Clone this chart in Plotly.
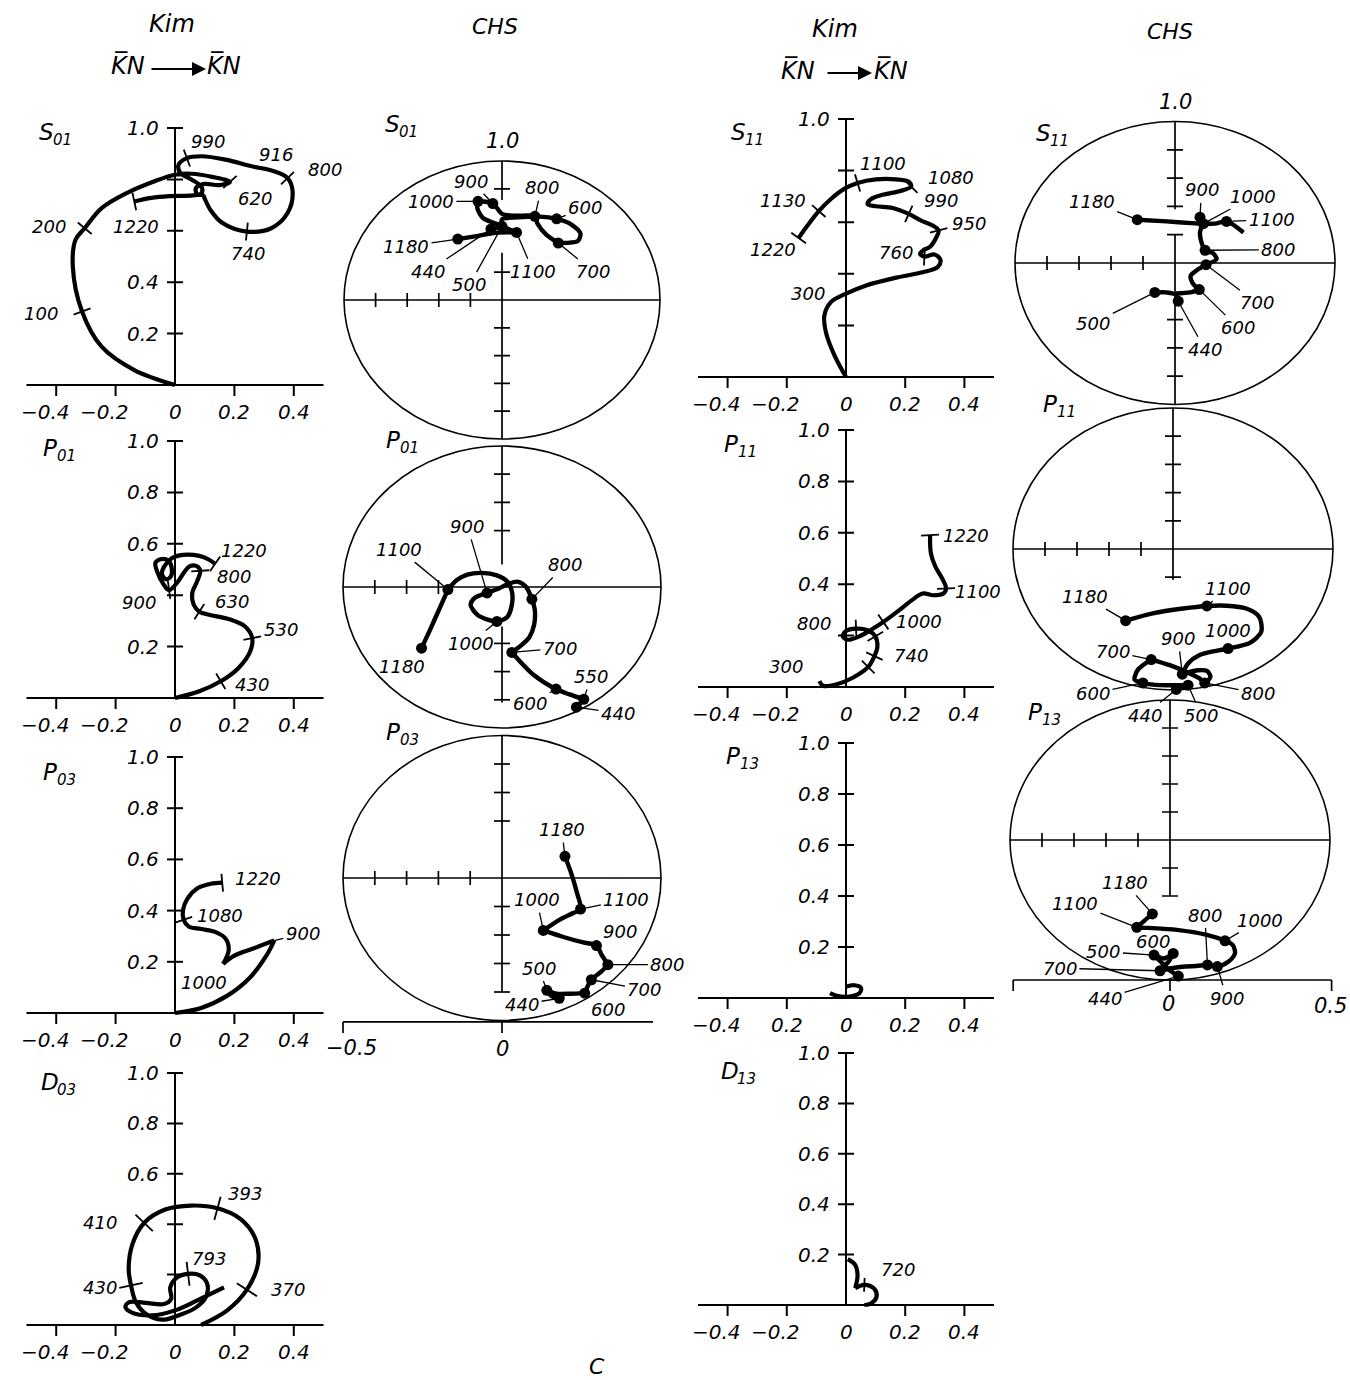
import math
import plotly.graph_objects as go

W, H = 1350, 1380
FONT = "DejaVu Sans"
INK = "black"

# ------------------------------------------------------------------
# Kim, K̄N -> K̄N : partial-wave amplitudes, Re T (x) and Im T (y)
# ------------------------------------------------------------------
KIM_S01_RE = [0.000, -0.137, -0.247, -0.313, -0.344, -0.335, -0.304, -0.247, -0.159, -0.071,
              0.000, 0.055, 0.125, 0.185, 0.150, 0.095, 0.070, 0.075, 0.095, 0.100,
              0.120, 0.160, 0.242, 0.324, 0.379, 0.396, 0.379, 0.330, 0.258, 0.170,
              0.090, 0.040, 0.012, 0.018, 0.055, 0.090, 0.088, 0.060, -0.020, -0.080, -0.137]
KIM_S01_IM = [0.000, 0.058, 0.149, 0.286, 0.461, 0.565, 0.610, 0.688, 0.749, 0.792,
              0.818, 0.822, 0.810, 0.790, 0.778, 0.782, 0.765, 0.742, 0.738, 0.725,
              0.680, 0.630, 0.597, 0.610, 0.669, 0.753, 0.805, 0.833, 0.851, 0.877,
              0.890, 0.883, 0.857, 0.825, 0.800, 0.770, 0.745, 0.738, 0.735, 0.728, 0.714]
KIM_S01_EN = ["100", "200", "620", "740", "800", "916", "990", "1220"]
KIM_S01_AT = [3, 6, 13, 22, 26, 28, 31, 40]
KIM_S01_TICK_AT = [3, 6, 13, 22, 26, 31, 40]

KIM_P01_RE = [0.000, 0.082, 0.154, 0.214, 0.253, 0.260, 0.236, 0.181, 0.115, 0.082,
              0.063, 0.058, 0.074, 0.085, 0.071, 0.049, 0.030, 0.011, -0.020, -0.041,
              -0.060, -0.066, -0.049, -0.022, -0.011, -0.014, -0.030, -0.044, -0.036, -0.011,
              0.027, 0.082, 0.115, 0.135]
KIM_P01_IM = [0.000, 0.026, 0.065, 0.117, 0.181, 0.233, 0.278, 0.307, 0.324, 0.336,
              0.363, 0.408, 0.453, 0.495, 0.514, 0.512, 0.488, 0.455, 0.420, 0.447,
              0.492, 0.525, 0.540, 0.534, 0.505, 0.473, 0.462, 0.483, 0.512, 0.544,
              0.557, 0.553, 0.538, 0.522]
KIM_P01_EN = ["430", "530", "630", "800", "900", "1220"]
KIM_P01_AT = [2, 5, 9, 13, 18, 33]
KIM_P01_TICK_AT = [2, 5, 9, 13, 18, 33]

KIM_P03_RE = [0.000, 0.088, 0.175, 0.252, 0.307, 0.334, 0.263, 0.197, 0.162, 0.181,
              0.170, 0.137, 0.088, 0.046, 0.029, 0.027, 0.042, 0.077, 0.121, 0.159]
KIM_P03_IM = [0.000, 0.020, 0.067, 0.138, 0.223, 0.283, 0.252, 0.222, 0.192, 0.247,
              0.291, 0.316, 0.328, 0.338, 0.364, 0.403, 0.447, 0.488, 0.505, 0.509]
KIM_P03_EN = ["900", "1000", "1080", "1220"]
KIM_P03_AT = [5, 8, 14, 19]
KIM_P03_TICK_AT = [14, 19]

KIM_D03_RE = [0.088, 0.176, 0.242, 0.280, 0.269, 0.220, 0.143, 0.055, -0.033, -0.104,
              -0.143, -0.156, -0.148, -0.132, -0.099, -0.044, 0.011, 0.066, 0.104, 0.108,
              0.082, 0.044, 0.005, -0.016, -0.013, -0.038, -0.099, -0.154, -0.167, -0.143,
              -0.077, 0.000, 0.077, 0.165]
KIM_D03_IM = [0.000, 0.058, 0.140, 0.248, 0.347, 0.421, 0.463, 0.474, 0.458, 0.405,
              0.322, 0.223, 0.157, 0.091, 0.045, 0.021, 0.038, 0.066, 0.111, 0.165,
              0.198, 0.203, 0.187, 0.149, 0.104, 0.083, 0.088, 0.091, 0.071, 0.048,
              0.038, 0.058, 0.099, 0.149]
KIM_D03_EN = ["370", "393", "410", "430", "793"]
KIM_D03_AT = [2, 6, 9, 12, 21]
KIM_D03_TICK_AT = [2, 6, 9, 12, 21]

KIM_S11_RE = [0.000, -0.039, -0.068, -0.073, -0.051, 0.000, 0.068, 0.169, 0.259, 0.310,
              0.319, 0.299, 0.265, 0.250, 0.262, 0.284, 0.304, 0.313, 0.293, 0.254,
              0.212, 0.158, 0.101, 0.073, 0.085, 0.124, 0.180, 0.220, 0.212, 0.169,
              0.101, 0.039, -0.006, -0.051, -0.092, -0.130, -0.160]
KIM_S11_IM = [0.000, 0.084, 0.174, 0.239, 0.290, 0.323, 0.355, 0.385, 0.406, 0.426,
              0.454, 0.475, 0.467, 0.478, 0.492, 0.505, 0.539, 0.568, 0.587, 0.606,
              0.632, 0.655, 0.662, 0.670, 0.690, 0.706, 0.720, 0.738, 0.757, 0.766,
              0.766, 0.752, 0.729, 0.690, 0.643, 0.587, 0.539]
KIM_S11_EN = ["300", "760", "950", "990", "1080", "1100", "1130", "1220"]
KIM_S11_AT = [5, 12, 17, 20, 27, 31, 34, 36]
KIM_S11_TICK_AT = [12, 17, 20, 27, 31, 34, 36]

KIM_P11_RE = [-0.090, -0.077, -0.034, 0.023, 0.075, 0.096, 0.106, 0.099, 0.073, 0.034,
              0.000, -0.011, 0.006, 0.045, 0.085, 0.126, 0.180, 0.225, 0.259, 0.295,
              0.329, 0.338, 0.327, 0.302, 0.287, 0.284]
KIM_P11_IM = [0.023, 0.005, 0.010, 0.036, 0.078, 0.120, 0.156, 0.197, 0.221, 0.227,
              0.218, 0.197, 0.184, 0.197, 0.223, 0.253, 0.299, 0.340, 0.364, 0.357,
              0.364, 0.383, 0.418, 0.468, 0.519, 0.591]
KIM_P11_EN = ["300", "740", "800", "1000", "1100", "1220"]
KIM_P11_AT = [0, 5, 9, 15, 21, 25]
KIM_P11_TICK_AT = [4, 5, 7, 9, 15, 21, 25]

KIM_P13_RE = [-0.054, -0.028, 0.011, 0.045, 0.051, 0.028, 0.000]
KIM_P13_IM = [0.019, 0.008, 0.006, 0.019, 0.039, 0.050, 0.044]

KIM_D13_RE = [0.006, 0.031, 0.039, 0.031, 0.062, 0.096, 0.103, 0.084, 0.062]
KIM_D13_IM = [0.182, 0.159, 0.115, 0.067, 0.080, 0.064, 0.032, 0.006, 0.000]
KIM_D13_EN = ["720"]
KIM_D13_AT = [4]
KIM_D13_TICK_AT = [4]

# ------------------------------------------------------------------
# CHS: amplitudes inside the unitary circle (Re T, Im T)
# ------------------------------------------------------------------
CHS_S01_RE = [-0.035, 0.000, 0.000, 0.050, 0.120, 0.173, 0.215, 0.248, 0.240, 0.178,
              0.140, 0.112, 0.104, 0.040, 0.000, -0.029, -0.076, -0.078, -0.060, -0.020,
              0.046, -0.020, -0.080, -0.140]
CHS_S01_IM = [0.755, 0.765, 0.790, 0.797, 0.800, 0.792, 0.775, 0.740, 0.712, 0.705,
              0.735, 0.775, 0.801, 0.803, 0.810, 0.847, 0.855, 0.830, 0.795, 0.775,
              0.743, 0.742, 0.730, 0.719]
CHS_S01_EN = ["440", "500", "600", "700", "800", "900", "1000", "1100", "1180"]
CHS_S01_AT = [0, 1, 5, 9, 12, 15, 16, 20, 23]

CHS_P01_RE = [0.234, 0.257, 0.210, 0.170, 0.099, 0.031, 0.059, 0.086, 0.101, 0.103,
              0.094, 0.076, 0.049, 0.021, -0.010, -0.047, -0.086, -0.099, -0.078, -0.045,
              -0.016, 0.016, 0.031, 0.031, 0.016, -0.016, -0.063, -0.109, -0.143, -0.170,
              -0.198, -0.226, -0.253]
CHS_P01_IM = [0.074, 0.102, 0.120, 0.138, 0.189, 0.268, 0.292, 0.322, 0.366, 0.420,
              0.457, 0.500, 0.519, 0.512, 0.495, 0.479, 0.461, 0.437, 0.402, 0.384,
              0.378, 0.393, 0.437, 0.485, 0.520, 0.541, 0.550, 0.544, 0.524, 0.491,
              0.420, 0.349, 0.283]
CHS_P01_EN = ["440", "550", "600", "700", "800", "900", "1000", "1100", "1180"]
CHS_P01_AT = [0, 1, 3, 5, 10, 15, 20, 29, 32]

CHS_P03_RE = [0.180, 0.156, 0.141, 0.172, 0.214, 0.260, 0.281, 0.313, 0.333, 0.313,
              0.297, 0.255, 0.193, 0.130, 0.182, 0.224, 0.247, 0.236, 0.219, 0.198]
CHS_P03_IM = [0.078, 0.085, 0.106, 0.094, 0.094, 0.096, 0.143, 0.172, 0.196, 0.231,
              0.263, 0.274, 0.293, 0.316, 0.354, 0.377, 0.391, 0.447, 0.512, 0.576]
CHS_P03_EN = ["440", "500", "600", "700", "800", "900", "1000", "1100", "1180"]
CHS_P03_AT = [0, 2, 5, 6, 8, 10, 13, 16, 19]

CHS_S11_RE = [0.010, 0.003, -0.026, -0.063, None, 0.003, 0.047, 0.076, 0.055, 0.049,
              0.070, 0.097, 0.130, 0.118, 0.094, 0.082, 0.078, 0.084, 0.078, None,
              -0.118, -0.026, 0.052, 0.089, 0.125, 0.161, 0.214]
CHS_S11_IM = [0.365, 0.388, 0.396, 0.396, None, 0.392, 0.396, 0.406, 0.429, 0.455,
              0.476, 0.494, 0.514, 0.535, 0.545, 0.576, 0.608, 0.635, 0.662, None,
              0.653, 0.647, 0.641, 0.639, 0.639, 0.647, 0.608]
CHS_S11_EN = ["440", "500", "600", "700", "800", "900", "1000", "1100", "1180"]
CHS_S11_AT = [0, 3, 7, 11, 14, 18, 23, 25, 20]

CHS_P11_RE = [0.010, 0.047, -0.021, -0.078, -0.094, -0.120, -0.109, -0.068, -0.010, 0.042,
              0.083, 0.099, 0.117, 0.106, 0.078, 0.052, 0.029, 0.047, 0.083, 0.135,
              0.172, 0.240, 0.276, 0.269, 0.229, 0.167, 0.106, 0.031, -0.063, -0.148]
CHS_P11_IM = [0.002, 0.017, 0.017, 0.021, 0.025, 0.037, 0.073, 0.108, 0.088, 0.064,
              0.041, 0.025, 0.047, 0.068, 0.070, 0.064, 0.056, 0.094, 0.124, 0.139,
              0.147, 0.167, 0.207, 0.260, 0.289, 0.299, 0.298, 0.289, 0.272, 0.246]
CHS_P11_EN = ["440", "500", "600", "700", "800", "900", "1000", "1100", "1180"]
CHS_P11_AT = [0, 1, 4, 7, 11, 16, 20, 26, 29]

CHS_P13_RE = [0.026, -0.005, -0.029, -0.050, -0.019, 0.010, -0.005, -0.026, -0.031, 0.005,
              0.047, 0.083, 0.117, 0.148, 0.182, 0.203, 0.196, 0.172, 0.115, 0.021,
              -0.068, -0.104, -0.078, -0.055]
CHS_P13_IM = [0.014, 0.038, 0.065, 0.089, 0.077, 0.095, 0.065, 0.042, 0.033, 0.042,
              0.048, 0.050, 0.054, 0.048, 0.065, 0.095, 0.125, 0.140, 0.161, 0.179,
              0.186, 0.188, 0.214, 0.236]
CHS_P13_EN = ["440", "500", "600", "700", "800", "900", "1000", "1100", "1180"]
CHS_P13_AT = [0, 3, 5, 8, 12, 13, 17, 21, 23]

X_TICKS = [-0.4, -0.2, 0.0, 0.2, 0.4]
XLAB = ["−0.4", "−0.2", "0", "0.2", "0.4"]

# ------------------------------------------------------------------
# Panel geometry (pixel origin, pixels per unit, label placement)
# ------------------------------------------------------------------
KIM_PANELS = [
    dict(name=("S", "01"), name_px=(46, 132), ox=175, oy=385, sx=297, sy=257, cols=(2, 345),
         re=KIM_S01_RE, im=KIM_S01_IM, en=KIM_S01_EN, at=KIM_S01_AT, ticks=KIM_S01_TICK_AT,
         breaks=[], tick_len=18,
         lab_xy=[(-0.451, 0.279), (-0.423, 0.617), (0.269, 0.727), (0.247, 0.513), (0.505, 0.838),
                 (0.341, 0.896), (0.110, 0.948), (-0.132, 0.617)],
         ylab=[(1.0, "1.0"), (0.4, "0.4"), (0.2, "0.2")], xlab=XLAB),
    dict(name=("P", "01"), name_px=(50, 448), ox=175, oy=698, sx=297, sy=257, cols=(2, 345),
         re=KIM_P01_RE, im=KIM_P01_IM, en=KIM_P01_EN, at=KIM_P01_AT, ticks=KIM_P01_TICK_AT,
         breaks=[], tick_len=18,
         lab_xy=[(0.258, 0.052), (0.357, 0.266), (0.192, 0.376), (0.198, 0.473), (-0.121, 0.372),
                 (0.231, 0.574)],
         ylab=[(1.0, "1.0"), (0.8, "0.8"), (0.6, "0.6"), (0.2, "0.2")], xlab=XLAB),
    dict(name=("P", "03"), name_px=(50, 772), ox=175, oy=1013, sx=297, sy=256, cols=(2, 345),
         re=KIM_P03_RE, im=KIM_P03_IM, en=KIM_P03_EN, at=KIM_P03_AT, ticks=KIM_P03_TICK_AT,
         breaks=[5, 8], tick_len=18, leaders=["900"],
         lab_xy=[(0.43, 0.31), (0.099, 0.119), (0.153, 0.38), (0.28, 0.525)],
         ylab=[(1.0, "1.0"), (0.8, "0.8"), (0.6, "0.6"), (0.4, "0.4"), (0.2, "0.2")], xlab=XLAB),
    dict(name=("D", "03"), name_px=(50, 1082), ox=175, oy=1325, sx=297, sy=252, cols=(2, 345),
         re=KIM_D03_RE, im=KIM_D03_IM, en=KIM_D03_EN, at=KIM_D03_AT, ticks=KIM_D03_TICK_AT,
         breaks=[], tick_len=24,
         lab_xy=[(0.379, 0.140), (0.236, 0.521), (-0.253, 0.405), (-0.253, 0.149), (0.115, 0.264)],
         ylab=[(1.0, "1.0"), (0.8, "0.8"), (0.6, "0.6")], xlab=XLAB),
    dict(name=("S", "11"), name_px=(738, 132), ox=846, oy=377, sx=296, sy=258, cols=(672, 1002),
         re=KIM_S11_RE, im=KIM_S11_IM, en=KIM_S11_EN, at=KIM_S11_AT, ticks=KIM_S11_TICK_AT,
         breaks=[], tick_len=18,
         lab_xy=[(-0.130, 0.325), (0.169, 0.484), (0.417, 0.594), (0.321, 0.684), (0.355, 0.774),
                 (0.124, 0.826), (-0.214, 0.684), (-0.248, 0.493)],
         ylab=[(1.0, "1.0")], xlab=XLAB),
    dict(name=("P", "11"), name_px=(731, 444), ox=846, oy=687, sx=296, sy=257, cols=(672, 1002),
         re=KIM_P11_RE, im=KIM_P11_IM, en=KIM_P11_EN, at=KIM_P11_AT, ticks=KIM_P11_TICK_AT,
         breaks=[], tick_len=18,
         lab_xy=[(-0.203, 0.078), (0.220, 0.123), (-0.107, 0.249), (0.248, 0.253), (0.445, 0.370),
                 (0.406, 0.591)],
         ylab=[(1.0, "1.0"), (0.8, "0.8"), (0.6, "0.6"), (0.4, "0.4")], xlab=XLAB),
    dict(name=("P", "13"), name_px=(733, 756), ox=846, oy=998, sx=296, sy=255, cols=(672, 1002),
         re=KIM_P13_RE, im=KIM_P13_IM, en=[], at=[], ticks=[], breaks=[], tick_len=18, lab_xy=[],
         ylab=[(1.0, "1.0"), (0.8, "0.8"), (0.6, "0.6"), (0.4, "0.4"), (0.2, "0.2")],
         xlab=["−0.4", "0.2", "0", "0.2", "0.4"]),
    dict(name=("D", "13"), name_px=(730, 1071), ox=846, oy=1305, sx=296, sy=252, cols=(672, 1002),
         re=KIM_D13_RE, im=KIM_D13_IM, en=KIM_D13_EN, at=KIM_D13_AT, ticks=KIM_D13_TICK_AT,
         breaks=[3], tick_len=14, lab_xy=[(0.174, 0.139)],
         ylab=[(1.0, "1.0"), (0.8, "0.8"), (0.6, "0.6"), (0.4, "0.4"), (0.2, "0.2")], xlab=XLAB),
]

CHS_PANELS = [
    dict(name=("S", "01"), name_px=(392, 124), cx=502, cy=300, sx=316, sy=278, cols=(335, 670),
         re=CHS_S01_RE, im=CHS_S01_IM, en=CHS_S01_EN, at=CHS_S01_AT, breaks=[1, 9, 16, 20],
         vseg=[(0.0, 0.67), (0.86, 1.0)], vticks=[0.1, 0.2, 0.3, 0.4, 0.6, 0.9],
         hticks=[-0.4, -0.3, -0.2, -0.1], top_label=True,
         lab_xy=[(-0.235, 0.602), (-0.103, 0.554), (0.263, 0.831), (0.289, 0.602), (0.125, 0.904),
                 (-0.097, 0.928), (-0.225, 0.855), (0.099, 0.602), (-0.304, 0.693)]),
    dict(name=("P", "01"), name_px=(393, 440), cx=502, cy=587, sx=318, sy=282, cols=(335, 670),
         re=CHS_P01_RE, im=CHS_P01_IM, en=CHS_P01_EN, at=CHS_P01_AT, breaks=[1, 5, 29],
         vseg=[(0.09, 0.36), (0.58, 1.0)], vticks=[0.1, 0.2, 0.3, 0.7, 0.8, 0.9],
         hticks=[-0.4, -0.3, -0.2], no_leader=["1180"],
         lab_xy=[(0.365, 0.053), (0.281, 0.183), (0.089, 0.086), (0.182, 0.283), (0.198, 0.579),
                 (-0.109, 0.715), (-0.099, 0.301), (-0.323, 0.633), (-0.313, 0.218)]),
    dict(name=("P", "03"), name_px=(393, 732), cx=502, cy=878, sx=318, sy=285, cols=(335, 670),
         re=CHS_P03_RE, im=CHS_P03_IM, en=CHS_P03_EN, at=CHS_P03_AT, breaks=[2, 5, 8, 13],
         vseg=[(0.1, 1.0)], vticks=[0.1, 0.2, 0.3, 0.4, 0.7, 0.8, 0.9],
         hticks=[-0.4, -0.3, -0.2, -0.1],
         base=dict(y=-0.005, x0=-0.5, x1=0.475, ticks=[-0.5, 0.0],
                   labels=[(-0.472, -0.096, "−0.5"), (0.0, -0.10, "0")]),
         lab_xy=[(0.063, 0.056), (0.115, 0.184), (0.333, 0.038), (0.448, 0.108), (0.52, 0.196),
                 (0.370, 0.313), (0.109, 0.424), (0.391, 0.424), (0.188, 0.670)]),
    dict(name=("S", "11"), name_px=(1043, 133), cx=1175, cy=263, sx=320, sy=283, cols=(1003, 1349),
         re=CHS_S11_RE, im=CHS_S11_IM, en=CHS_S11_EN, at=CHS_S11_AT, breaks=[7, 11],
         vseg=[(0.0, 0.6), (0.69, 1.0)], vticks=[0.1, 0.2, 0.3, 0.6, 0.7, 0.8, 0.9],
         hticks=[-0.4, -0.3, -0.2, -0.1], top_label=True,
         lab_xy=[(0.094, 0.194), (-0.255, 0.288), (0.198, 0.271), (0.255, 0.359), (0.323, 0.547),
                 (0.083, 0.759), (0.245, 0.735), (0.302, 0.653), (-0.260, 0.718)]),
    dict(name=("P", "11"), name_px=(1050, 404), cx=1173, cy=549, sx=320, sy=282, cols=(1003, 1349),
         re=CHS_P11_RE, im=CHS_P11_IM, en=CHS_P11_EN, at=CHS_P11_AT, breaks=[1, 7, 16],
         vseg=[(0.39, 1.0)], vticks=[0.4, 0.6, 0.7, 0.8, 0.9],
         hticks=[-0.4, -0.3, -0.2, -0.1],
         lab_xy=[(-0.089, -0.089), (0.089, -0.089), (-0.250, -0.012), (-0.188, 0.136), (0.266, -0.012),
                 (0.016, 0.183), (0.172, 0.212), (0.172, 0.360), (-0.276, 0.331)]),
    dict(name=("P", "13"), name_px=(1035, 712), cx=1170, cy=840, sx=320, sy=280, cols=(1003, 1349),
         re=CHS_P13_RE, im=CHS_P13_IM, en=CHS_P13_EN, at=CHS_P13_AT, breaks=[3, 5, 8, 21],
         vseg=[(0.3, 1.0)], vticks=[0.3, 0.4, 0.6, 0.7, 0.8, 0.9],
         hticks=[-0.4, -0.3, -0.2, -0.1], no_leader=["600"],
         base=dict(y=0.0, x0=-0.49, x1=0.505, ticks=[-0.49, 0.0, 0.505],
                   labels=[(-0.005, -0.085, "0"), (0.5, -0.092, "0.5")]),
         lab_xy=[(-0.203, -0.065), (-0.208, 0.101), (-0.052, 0.137), (-0.344, 0.042), (0.109, 0.232),
                 (0.177, -0.065), (0.281, 0.214), (-0.297, 0.274), (-0.141, 0.348)]),
]

# ------------------------------------------------------------------
fig = go.Figure()
annotations, shapes, axes_layout = [], [], {}
_count = [0]


def new_axes(ox, oy, sx, sy, left, top, right, bottom):
    _count[0] += 1
    i = _count[0]
    s = "" if i == 1 else str(i)
    xa, ya = "x" + s, "y" + s
    axes_layout["xaxis" + s] = dict(domain=[left / W, right / W],
                                    range=[(left - ox) / sx, (right - ox) / sx],
                                    visible=False, fixedrange=True, anchor=ya)
    axes_layout["yaxis" + s] = dict(domain=[1 - bottom / H, 1 - top / H],
                                    range=[(oy - bottom) / sy, (oy - top) / sy],
                                    visible=False, fixedrange=True, anchor=xa)
    return xa, ya


def add_segments(xa, ya, segs, width):
    xs, ys = [], []
    for (x1, y1), (x2, y2) in segs:
        xs += [x1, x2, None]
        ys += [y1, y2, None]
    fig.add_trace(go.Scatter(x=xs, y=ys, mode="lines", line=dict(color=INK, width=width),
                             xaxis=xa, yaxis=ya, hoverinfo="skip", showlegend=False))


def add_curve(xa, ya, re, im, breaks, width, smoothing=1.0):
    xs, ys = [], []
    for k, (a, b) in enumerate(zip(re, im)):
        xs.append(a)
        ys.append(b)
        if k in breaks:
            xs += [None, a]
            ys += [None, b]
    fig.add_trace(go.Scatter(x=xs, y=ys, mode="lines",
                             line=dict(color=INK, width=width, shape="spline", smoothing=smoothing),
                             connectgaps=False, xaxis=xa, yaxis=ya, hoverinfo="skip", showlegend=False))


def tick_across(re, im, k, sx, sy, length):
    n = len(re)
    i0 = k - 1 if k - 1 >= 0 else k
    i1 = k + 1 if k + 1 < n else k
    dx = (re[i1] - re[i0]) * sx
    dy = (im[i1] - im[i0]) * sy
    norm = math.hypot(dx, dy) or 1.0
    nx, ny = -dy / norm, dx / norm
    h = length / 2.0
    return ((re[k] - nx * h / sx, im[k] - ny * h / sy), (re[k] + nx * h / sx, im[k] + ny * h / sy))


def text(xref, yref, x, y, s, size, xanchor="center", yanchor="middle", **kw):
    annotations.append(dict(xref=xref, yref=yref, x=x, y=y, text="<i>" + s + "</i>", showarrow=False,
                            xanchor=xanchor, yanchor=yanchor,
                            font=dict(family=FONT, size=size, color=INK), **kw))


def paper_text(px, py, s, size, **kw):
    text("paper", "paper", px / W, 1 - py / H, s, size, **kw)


def panel_name(px, py, letter, sub):
    paper_text(px, py, letter, 23)
    paper_text(px + 5, py + 8, sub, 15, xanchor="left")


def leader_text(xa, ya, x, y, tx, ty, s, size):
    annotations.append(dict(xref=xa, yref=ya, x=x, y=y, axref=xa, ayref=ya, ax=tx, ay=ty,
                            text="<i>" + s + "</i>", showarrow=True, arrowhead=0, arrowwidth=1.3,
                            arrowcolor=INK, standoff=0, startstandoff=1,
                            xanchor="center", yanchor="middle",
                            font=dict(family=FONT, size=size, color=INK)))


def draw_kim(p):
    ox, oy, sx, sy = p["ox"], p["oy"], p["sx"], p["sy"]
    left, right = p["cols"]
    xa, ya = new_axes(ox, oy, sx, sy, left, oy - 1.13 * sy, right, oy + 0.13 * sy)
    tx = 8.0 / sx
    segs = [((-0.5, 0.0), (0.5, 0.0)), ((0.0, 0.0), (0.0, 1.0)), ((-tx, 1.0), (tx, 1.0))]
    for v in (-0.4, -0.2, 0.2, 0.4):
        segs.append(((v, 0.0), (v, -11.0 / sy)))
    for v in (0.2, 0.4, 0.6, 0.8):
        segs.append(((-tx, v), (tx, v)))
    add_segments(xa, ya, segs, 2)
    for v, s in p["ylab"]:
        text(xa, ya, -14.0 / sx, v, s, 20, xanchor="right")
    for v, s in zip(X_TICKS, p["xlab"]):
        text(xa, ya, v, -27.0 / sy, s, 20, xshift=-11 if s.startswith("−") else 0)

    re, im = p["re"], p["im"]
    add_curve(xa, ya, re, im, p["breaks"], 4.2)
    segs = [tick_across(re, im, k, sx, sy, p["tick_len"]) for k in p["ticks"]]
    if segs:
        add_segments(xa, ya, segs, 1.8)
    leaders = p.get("leaders", [])
    for s, k, (lx, ly) in zip(p["en"], p["at"], p["lab_xy"]):
        if s in leaders:
            leader_text(xa, ya, re[k], im[k], lx, ly, s, 18)
        else:
            text(xa, ya, lx, ly, s, 18)
    panel_name(*p["name_px"], *p["name"])


def draw_chs(p):
    cx, cy, sx, sy = p["cx"], p["cy"], p["sx"], p["sy"]
    ox, oy = cx, cy + 0.5 * sy
    left, right = p["cols"]
    xa, ya = new_axes(ox, oy, sx, sy, left, cy - 0.6 * sy, right, cy + 0.63 * sy)
    shapes.append(dict(type="circle", xref=xa, yref=ya, x0=-0.5, x1=0.5, y0=0.0, y1=1.0,
                       line=dict(color=INK, width=1.6)))
    th, tv = 8.0 / sx, 7.0 / sy
    segs = [((-0.5, 0.5), (0.5, 0.5))]
    for lo, hi in p["vseg"]:
        segs.append(((0.0, lo), (0.0, hi)))
    for v in p["vticks"]:
        segs.append(((-th, v), (th, v)))
    for v in p["hticks"]:
        segs.append(((v, 0.5 - tv), (v, 0.5 + tv)))
    base = p.get("base")
    if base:
        segs.append(((base["x0"], base["y"]), (base["x1"], base["y"])))
        for v in base["ticks"]:
            segs.append(((v, base["y"]), (v, base["y"] - 11.0 / sy)))
        for bx, by, s in base["labels"]:
            text(xa, ya, bx, by, s, 21)
    add_segments(xa, ya, segs, 1.7)
    if p.get("top_label"):
        text(xa, ya, 0.0, 1.0 + 20.0 / sy, "1.0", 21)

    re, im = p["re"], p["im"]
    add_curve(xa, ya, re, im, p["breaks"], 4.4, smoothing=0.8)
    fig.add_trace(go.Scatter(x=[re[k] for k in p["at"]], y=[im[k] for k in p["at"]], mode="markers",
                             marker=dict(size=11, color=INK), xaxis=xa, yaxis=ya,
                             hoverinfo="skip", showlegend=False))
    skip = p.get("no_leader", [])
    for s, k, (lx, ly) in zip(p["en"], p["at"], p["lab_xy"]):
        if s in skip:
            text(xa, ya, lx, ly, s, 18)
        else:
            leader_text(xa, ya, re[k], im[k], lx, ly, s, 18)
    panel_name(*p["name_px"], *p["name"])


for panel in KIM_PANELS:
    draw_kim(panel)
for panel in CHS_PANELS:
    draw_chs(panel)

# column headings
paper_text(172, 24, "Kim", 24)
paper_text(495, 26, "CHS", 22)
paper_text(835, 29, "Kim", 24)
paper_text(1170, 31, "CHS", 22)
for kx, arrow_x0, arrow_x1, kx2, ky in [(128, 150, 206, 224, 66), (798, 826, 872, 891, 70)]:
    paper_text(kx, ky, "K\u0305N", 24)
    paper_text(kx2, ky, "K\u0305N", 24)
    annotations.append(dict(xref="paper", yref="paper", x=arrow_x1 / W, y=1 - (ky + 3) / H,
                            ax=-(arrow_x1 - arrow_x0), ay=0, text="", showarrow=True,
                            arrowhead=2, arrowsize=1.4, arrowwidth=2, arrowcolor=INK, standoff=0))
paper_text(597, 1366, "C", 22)

fig.update_layout(
    width=W, height=H, autosize=False,
    margin=dict(l=0, r=0, t=0, b=0),
    paper_bgcolor="white", plot_bgcolor="rgba(0,0,0,0)",
    showlegend=False, hovermode=False,
    annotations=annotations, shapes=shapes,
    **axes_layout,
)

fig.write_html("out.html")
